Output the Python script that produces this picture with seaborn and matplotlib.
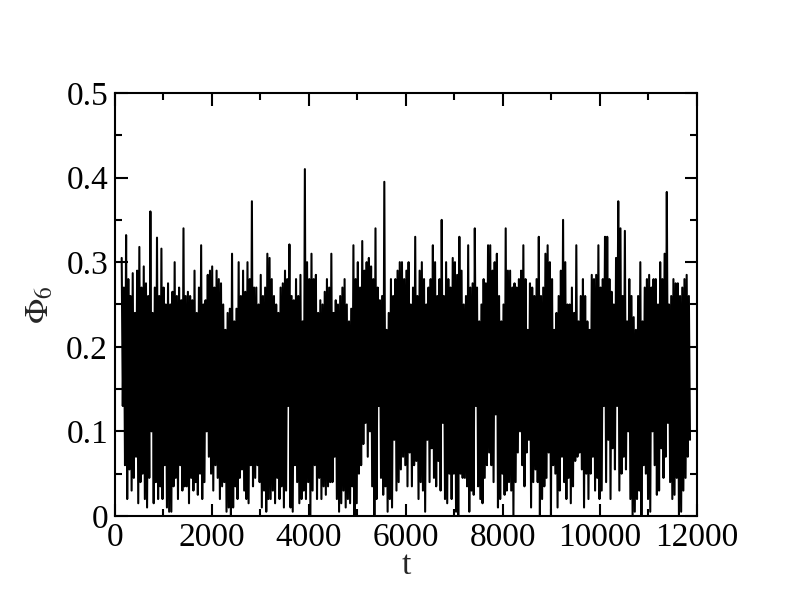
import numpy as np
import pandas as pd
import matplotlib
matplotlib.use("Agg")
import matplotlib.pyplot as plt
import seaborn as sns
from matplotlib.ticker import MultipleLocator, FuncFormatter

# time range covered by the trace
t_start, t_end = 138, 11856

# upper tips of the trace, left to right
phi_hi = [
    # t ~ 140-2000
    0.305, 0.27, 0.332, 0.28, 0.26, 0.287, 0.24, 0.29, 0.318, 0.27, 0.295, 0.275, 0.26, 0.36,
    0.24, 0.27, 0.329, 0.26, 0.316, 0.27, 0.25, 0.275, 0.25, 0.265, 0.30, 0.26, 0.27, 0.255,
    0.34, 0.26, 0.265, 0.26, 0.255, 0.29, 0.24, 0.27, 0.32, 0.25, 0.255, 0.285,
    # t ~ 2000-3900
    0.29, 0.295, 0.27, 0.29, 0.28, 0.275, 0.25, 0.22, 0.24, 0.245, 0.31, 0.23, 0.245, 0.30,
    0.26, 0.29, 0.265, 0.30, 0.28, 0.372, 0.27, 0.27, 0.25, 0.285, 0.26, 0.27, 0.31, 0.305,
    0.28, 0.26, 0.25, 0.24, 0.27, 0.275, 0.29, 0.28, 0.321, 0.26, 0.255, 0.28, 0.26, 0.285, 0.23,
    # t ~ 3900-5900
    0.41, 0.30, 0.28, 0.31, 0.28, 0.285, 0.24, 0.255, 0.25, 0.265, 0.28, 0.27, 0.31, 0.24,
    0.255, 0.25, 0.26, 0.27, 0.28, 0.25, 0.23, 0.245, 0.32, 0.28, 0.30, 0.27, 0.325, 0.29,
    0.30, 0.305, 0.295, 0.28, 0.34, 0.27, 0.255, 0.26, 0.395, 0.22, 0.24, 0.28, 0.26,
    # t ~ 5900-7800
    0.28, 0.29, 0.30, 0.30, 0.28, 0.29, 0.30, 0.25, 0.27, 0.33, 0.26, 0.29, 0.30, 0.28,
    0.25, 0.27, 0.28, 0.32, 0.30, 0.26, 0.28, 0.35, 0.26, 0.30, 0.28, 0.27, 0.305, 0.30,
    0.285, 0.33, 0.29, 0.25, 0.26, 0.32, 0.27, 0.275, 0.34, 0.27, 0.23, 0.25, 0.28, 0.275, 0.32,
    # t ~ 7800-9800
    0.32, 0.29, 0.30, 0.31, 0.26, 0.23, 0.25, 0.34, 0.29, 0.29, 0.27, 0.275, 0.27, 0.28,
    0.29, 0.32, 0.28, 0.22, 0.275, 0.27, 0.26, 0.28, 0.33, 0.26, 0.27, 0.31, 0.32, 0.30,
    0.28, 0.22, 0.24, 0.26, 0.29, 0.35, 0.30, 0.25, 0.25, 0.27, 0.24, 0.32, 0.23, 0.26,
    0.28, 0.26, 0.23,
    # t ~ 9800-11850
    0.22, 0.285, 0.28, 0.285, 0.32, 0.27, 0.28, 0.33, 0.33, 0.28, 0.265, 0.25, 0.305, 0.372,
    0.34, 0.26, 0.337, 0.23, 0.28, 0.26, 0.235, 0.22, 0.26, 0.30, 0.23, 0.27, 0.28, 0.285,
    0.27, 0.28, 0.28, 0.25, 0.30, 0.28, 0.31, 0.383, 0.25, 0.26, 0.28, 0.275, 0.275, 0.26,
    0.27, 0.28, 0.285, 0.26,
]

# lower tips of the trace, left to right
phi_lo = [
    0.13, 0.06, 0.02, 0.055, 0.03, 0.045, 0.07, 0.015, 0.04, 0.05, 0.02, 0.01, 0.045, 0.10,
    0.015, 0.04, 0.02, 0.035, 0.02, 0.06, 0.01, 0.005, 0.005, 0.035, 0.045, 0.02, 0.06, 0.03,
    0.035, 0.035, 0.015, 0.045, 0.03, 0.04, 0.025, 0.05, 0.02, 0.04, 0.10, 0.07,
    0.05, 0.03, 0.06, 0.045, 0.02, 0.035, 0.04, 0.005, 0.01, 0.0, 0.01, 0.035, 0.02, 0.045,
    0.055, 0.03, 0.02, 0.015, 0.06, 0.035, 0.045, 0.06, 0.04, 0.01, 0.03, 0.005, 0.02, 0.02,
    0.03, 0.015, 0.045, 0.02, 0.035, 0.01, 0.03, 0.13, 0.01, 0.005, 0.06, 0.04, 0.015, 0.02, 0.03,
    0.02, 0.04, 0.0, 0.03, 0.06, 0.02, 0.045, 0.02, 0.035, 0.025, 0.035, 0.04, 0.04, 0.07,
    0.02, 0.005, 0.015, 0.03, 0.01, 0.02, 0.015, 0.035, 0.0, 0.015, 0.05, 0.06, 0.085, 0.11,
    0.07, 0.10, 0.035, 0.0, 0.02, 0.13, 0.045, 0.025, 0.035, 0.005, 0.02, 0.01, 0.09,
    0.03, 0.04, 0.055, 0.07, 0.06, 0.035, 0.075, 0.035, 0.06, 0.065, 0.02, 0.04, 0.03, 0.005,
    0.09, 0.04, 0.08, 0.045, 0.035, 0.065, 0.03, 0.11, 0.02, 0.015, 0.05, 0.02, 0.05, 0.005,
    0.0, 0.05, 0.045, 0.045, 0.035, 0.005, 0.03, 0.025, 0.13, 0.035, 0.02, 0.015, 0.045, 0.06, 0.075,
    0.06, 0.04, 0.12, 0.01, 0.02, 0.05, 0.025, 0.03, 0.04, 0.03, 0.0, 0.04, 0.075, 0.10,
    0.06, 0.035, 0.075, 0.09, 0.01, 0.04, 0.055, 0.04, 0.0, 0.02, 0.035, 0.045, 0.075, 0.0,
    0.06, 0.05, 0.01, 0.03, 0.07, 0.04, 0.02, 0.045, 0.015, 0.035, 0.065, 0.07, 0.075, 0.055,
    0.01, 0.05, 0.02,
    0.05, 0.07, 0.03, 0.045, 0.02, 0.03, 0.13, 0.04, 0.09, 0.02, 0.08, 0.055, 0.13, 0.03,
    0.05, 0.07, 0.055, 0.10, 0.02, 0.0, 0.005, 0.02, 0.03, 0.0, 0.06, 0.05, 0.02, 0.005,
    0.10, 0.06, 0.025, 0.03, 0.08, 0.045, 0.07, 0.11, 0.04, 0.02, 0.025, 0.045, 0.0, 0.005,
    0.03, 0.045, 0.07, 0.09,
]

n = min(len(phi_hi), len(phi_lo))
phi = np.column_stack([phi_hi[:n], phi_lo[:n]]).ravel()
t = np.linspace(t_start, t_end, len(phi))
df = pd.DataFrame({"t": t, "phi": phi})

sns.set_style("ticks")
plt.rcParams["font.family"] = ["Liberation Serif", "DejaVu Serif"]
plt.rcParams["mathtext.fontset"] = "stix"

fig = plt.figure(figsize=(7.92, 6.07), dpi=100)
ax = fig.add_axes([0.1452, 0.150, 0.7348, 0.6968])

sns.lineplot(data=df, x="t", y="phi", color="black", linewidth=1.5, estimator=None, ax=ax)

ax.set_xlim(0, 12000)
ax.set_ylim(0, 0.5)
ax.xaxis.set_major_locator(MultipleLocator(2000))
ax.xaxis.set_minor_locator(MultipleLocator(1000))
ax.yaxis.set_major_locator(MultipleLocator(0.1))
ax.yaxis.set_minor_locator(MultipleLocator(0.05))
ax.yaxis.set_major_formatter(FuncFormatter(lambda v, p: "0" if abs(v) < 1e-9 else f"{v:.1f}"))

ax.tick_params(which="both", direction="in", top=True, right=True, width=1.5, colors="black")
ax.tick_params(which="major", length=9, labelsize=24, pad=5)
ax.tick_params(which="minor", length=5)
for s in ax.spines.values():
    s.set_linewidth(1.5)
    s.set_color("black")

ax.set_xlabel("t", fontsize=24, labelpad=-2)
ax.set_ylabel(r"$\Phi_6$", fontsize=24, labelpad=8)

fig.savefig("out.png", dpi=100)
